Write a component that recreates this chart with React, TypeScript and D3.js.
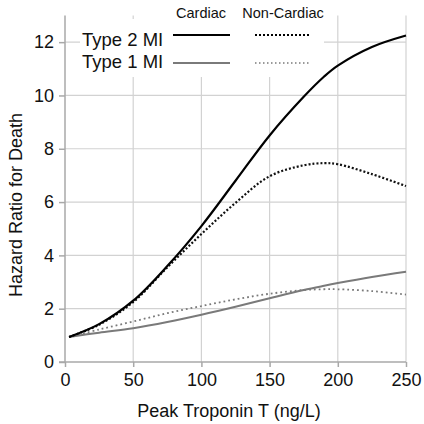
import React, { useEffect, useRef } from 'react';
import * as d3 from 'd3';

// Peak troponin T (ng/L) sample points
const troponin = [3, 25, 50, 75, 100, 125, 150, 175, 190, 200, 225, 250];

// Hazard ratios
const type2Cardiac = [0.94, 1.42, 2.3, 3.6, 5.1, 6.8, 8.5, 9.95, 10.71, 11.12, 11.82, 12.25];
const type2NonCardiac = [0.94, 1.4, 2.25, 3.55, 4.8, 5.97, 6.97, 7.38, 7.46, 7.42, 7.05, 6.6];
const type1Cardiac = [0.94, 1.1, 1.27, 1.5, 1.77, 2.07, 2.39, 2.7, 2.86, 2.96, 3.19, 3.39];
const type1NonCardiac = [0.94, 1.22, 1.52, 1.83, 2.1, 2.35, 2.56, 2.7, 2.73, 2.73, 2.66, 2.53];

const xTicks = [0, 50, 100, 150, 200, 250];
const yTicks = [0, 2, 4, 6, 8, 10, 12];

const FONT = '"Liberation Sans", Arial, Helvetica, sans-serif';

const App = () => {
  const chartRef = useRef<SVGSVGElement>(null);

  useEffect(() => {
    const svg = d3.select(chartRef.current);
    svg.selectAll('*').remove();

    const width = 424;
    const height = 424;
    const margin = { top: 16, right: 18, bottom: 62, left: 66 };

    const x = d3.scaleLinear().domain([0, 250]).range([margin.left - 1, width - margin.right]);
    const y = d3.scaleLinear().domain([0, 13]).range([height - margin.bottom, margin.top - 0.5]);

    const grid = svg.append('g');
    grid
      .selectAll('.vgrid')
      .data(xTicks.slice(1))
      .join('line')
      .attr('x1', (d) => x(d))
      .attr('x2', (d) => x(d))
      .attr('y1', y(13))
      .attr('y2', y(0))
      .attr('stroke', '#d2d2d2')
      .attr('stroke-width', 1.2);
    grid
      .selectAll('.hgrid')
      .data(yTicks.slice(1))
      .join('line')
      .attr('x1', x(0))
      .attr('x2', x(250))
      .attr('y1', (d) => y(d))
      .attr('y2', (d) => y(d))
      .attr('stroke', '#d2d2d2')
      .attr('stroke-width', 1.2);

    // Legend background sits over the grid, under the curves
    svg
      .append('rect')
      .attr('x', 80)
      .attr('y', 19)
      .attr('width', 244)
      .attr('height', 58)
      .attr('fill', '#fff');
    svg
      .append('rect')
      .attr('x', 160)
      .attr('y', 0)
      .attr('width', 172)
      .attr('height', 19)
      .attr('fill', '#fff');

    // Axes
    const axisColor = '#a8a8a8';
    const xAxis = svg
      .append('g')
      .attr('transform', `translate(0,${y(0)})`)
      .call(d3.axisBottom(x).tickValues(xTicks).tickSize(5).tickPadding(6));
    const yAxis = svg
      .append('g')
      .attr('transform', `translate(${x(0)},0)`)
      .call(d3.axisLeft(y).tickValues(yTicks).tickSize(6).tickPadding(5));
    [xAxis, yAxis].forEach((a) => {
      a.select('.domain').remove();
      a.selectAll('line').attr('stroke', axisColor).attr('stroke-width', 1.5);
      a.selectAll('text')
        .attr('fill', '#111')
        .style('font-family', FONT)
        .style('font-size', '18px');
    });
    svg
      .append('line')
      .attr('x1', x(0))
      .attr('x2', x(0))
      .attr('y1', y(13))
      .attr('y2', y(0))
      .attr('stroke', axisColor)
      .attr('stroke-width', 1.5);
    svg
      .append('line')
      .attr('x1', x(0) - 6)
      .attr('x2', x(250))
      .attr('y1', y(0))
      .attr('y2', y(0))
      .attr('stroke', axisColor)
      .attr('stroke-width', 1.5);

    // Axis titles
    svg
      .append('text')
      .attr('x', 229)
      .attr('y', 417)
      .attr('text-anchor', 'middle')
      .style('font-family', FONT)
      .style('font-size', '18px')
      .attr('fill', '#111')
      .text('Peak Troponin T (ng/L)');
    svg
      .append('text')
      .attr('transform', 'translate(22,205) rotate(-90)')
      .attr('text-anchor', 'middle')
      .style('font-family', FONT)
      .style('font-size', '18px')
      .attr('fill', '#111')
      .text('Hazard Ratio for Death');

    // Curves
    const line = d3
      .line<number>()
      .x((_, i) => x(troponin[i]))
      .y((d) => y(d))
      .curve(d3.curveCatmullRom.alpha(0.5));

    const series = [
      { values: type1Cardiac, color: '#7a7a7a', width: 2, dash: null },
      { values: type1NonCardiac, color: '#7a7a7a', width: 1.8, dash: '1.8,3' },
      { values: type2NonCardiac, color: '#111', width: 2.2, dash: '2,2' },
      { values: type2Cardiac, color: '#000', width: 2.2, dash: null },
    ];
    series.forEach((s) => {
      svg
        .append('path')
        .datum(s.values)
        .attr('d', line)
        .attr('fill', 'none')
        .attr('stroke', s.color)
        .attr('stroke-width', s.width)
        .attr('stroke-dasharray', s.dash);
    });

    // Legend
    const legend = svg.append('g');
    const headers = [
      { label: 'Cardiac', cx: 201 },
      { label: 'Non-Cardiac', cx: 283 },
    ];
    headers.forEach((h) => {
      legend
        .append('text')
        .attr('x', h.cx)
        .attr('y', 18)
        .attr('text-anchor', 'middle')
        .style('font-family', FONT)
        .style('font-size', '14.5px')
        .attr('fill', '#111')
        .text(h.label);
    });
    const rows = [
      { label: 'Type 2 MI', ty: 46, ly: 35, color: '#000', w: 2.2, dashW: 2.2, dash: '2,2' },
      { label: 'Type 1 MI', ty: 68, ly: 63, color: '#7a7a7a', w: 2, dashW: 1.5, dash: '1.5,2.5' },
    ];
    rows.forEach((r) => {
      legend
        .append('text')
        .attr('x', 82)
        .attr('y', r.ty)
        .style('font-family', FONT)
        .style('font-size', '18.5px')
        .attr('fill', '#111')
        .text(r.label);
      legend
        .append('line')
        .attr('x1', 173)
        .attr('x2', 230)
        .attr('y1', r.ly)
        .attr('y2', r.ly)
        .attr('stroke', r.color)
        .attr('stroke-width', r.w);
      legend
        .append('line')
        .attr('x1', 255)
        .attr('x2', 309)
        .attr('y1', r.ly)
        .attr('y2', r.ly)
        .attr('stroke', r.color)
        .attr('stroke-width', r.dashW)
        .attr('stroke-dasharray', r.dash);
    });
  }, []);

  return (
    <div style={{ position: 'absolute', top: 0, left: 0, width: 424, height: 424, background: '#fff' }}>
      <svg ref={chartRef} width={424} height={424} style={{ display: 'block' }}></svg>
    </div>
  );
};

export default App;
